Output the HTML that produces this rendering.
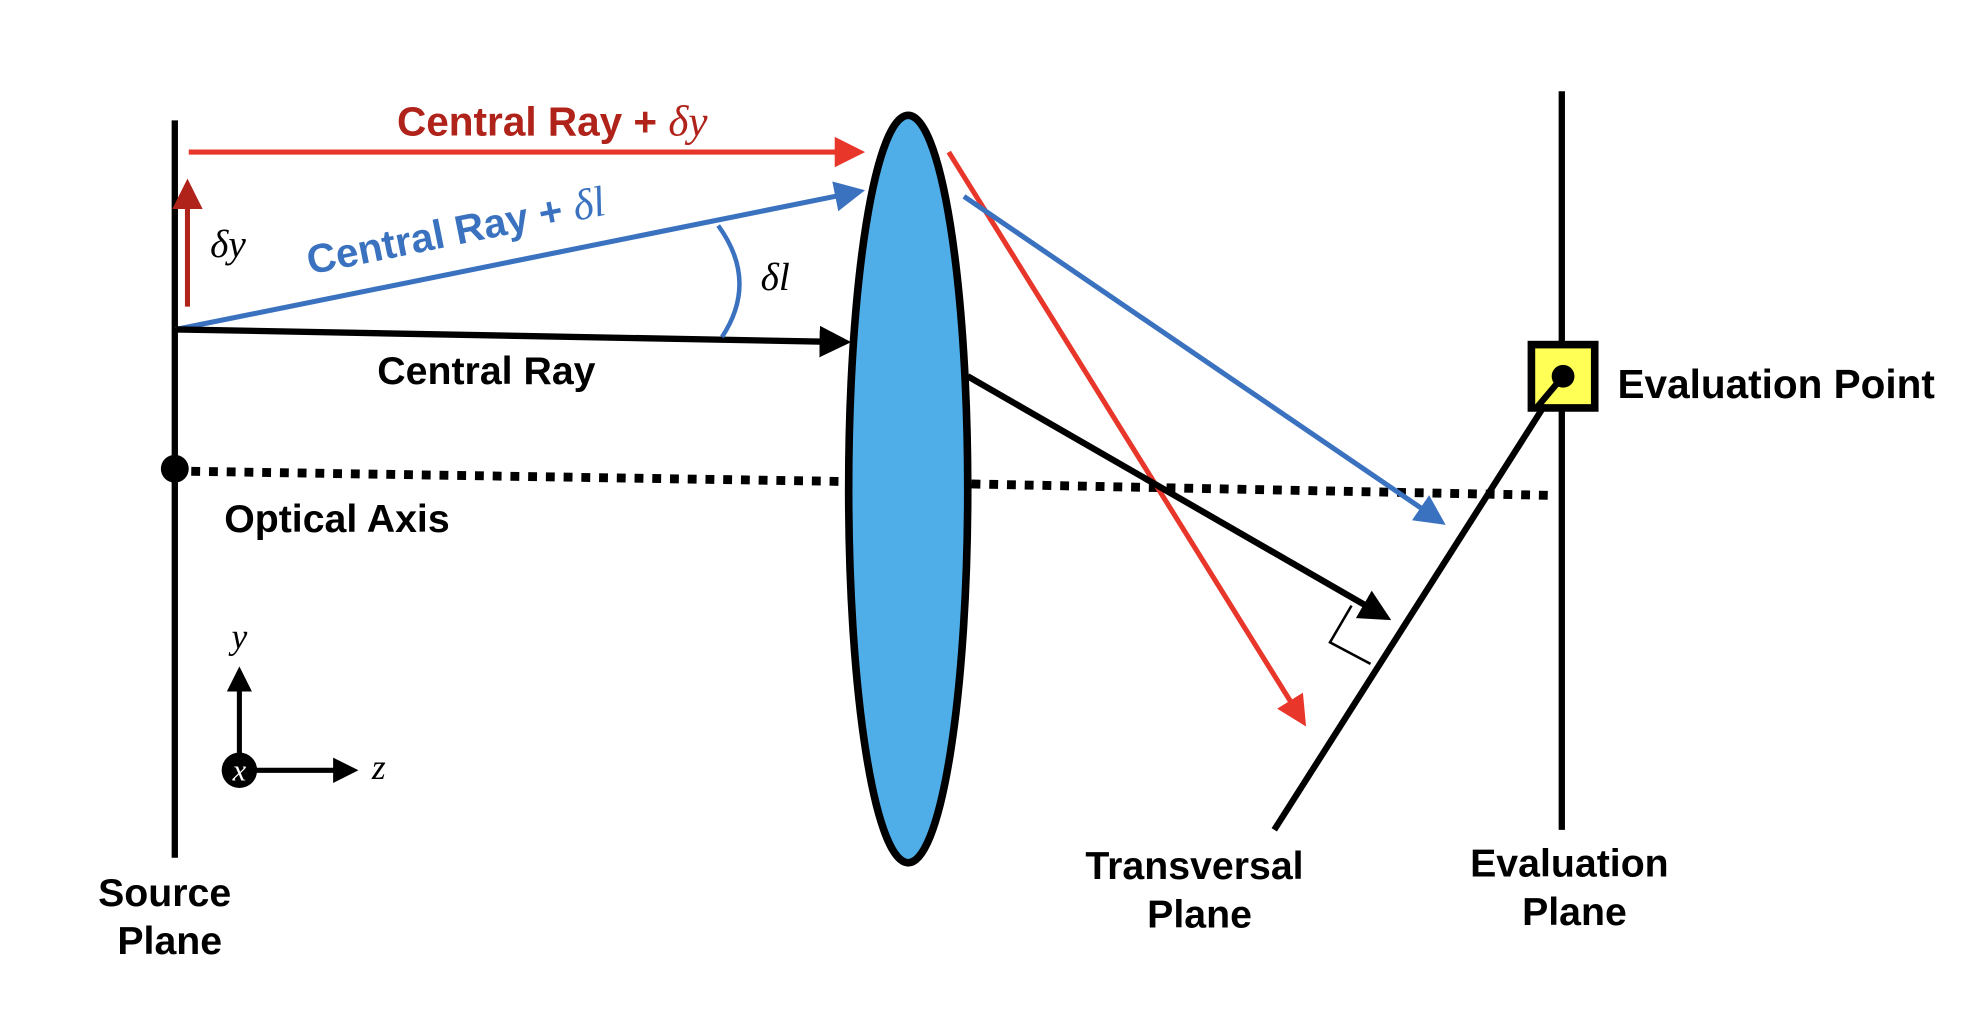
<!DOCTYPE html>
<html><head><meta charset="utf-8"><style>
html,body{margin:0;padding:0;background:#fff;}
svg{display:block;}
text{font-family:"Liberation Sans",sans-serif;font-weight:bold;}
.it{font-family:"Liberation Serif",serif;font-style:italic;font-weight:normal;}
</style></head><body>
<svg width="1976" height="1030" viewBox="0 0 1560 813" preserveAspectRatio="none">
<defs>
<marker id="hr" markerWidth="6" markerHeight="6" refX="5" refY="3" orient="auto" markerUnits="strokeWidth"><path d="M0,0 L6,3 L0,6 z" fill="#e8372a"/></marker>
<marker id="hd" markerWidth="6" markerHeight="6" refX="5" refY="3" orient="auto" markerUnits="strokeWidth"><path d="M0,0 L6,3 L0,6 z" fill="#b0231a"/></marker>
<marker id="hb" markerWidth="6" markerHeight="6" refX="5" refY="3" orient="auto" markerUnits="strokeWidth"><path d="M0,0 L6,3 L0,6 z" fill="#3a72c0"/></marker>
<marker id="hk" markerWidth="5" markerHeight="5" refX="4" refY="2.5" orient="auto" markerUnits="strokeWidth"><path d="M0,0 L5,2.5 L0,5 z" fill="#000"/></marker>
</defs>
<rect width="1560" height="813" fill="#fff"/>
<line x1="138" y1="95" x2="138" y2="677" stroke="#000" stroke-width="5"/>
<line x1="151" y1="372" x2="664" y2="380" stroke="#000" stroke-width="7" stroke-dasharray="7,7"/>
<line x1="767" y1="382" x2="1224" y2="391" stroke="#000" stroke-width="7" stroke-dasharray="7,7"/>
<circle cx="138" cy="370" r="11" fill="#000"/>
<line x1="149" y1="120" x2="679" y2="120" stroke="#e8372a" stroke-width="4" marker-end="url(#hr)"/>
<line x1="148" y1="242" x2="148" y2="145" stroke="#b0231a" stroke-width="4" marker-end="url(#hd)"/>
<line x1="139" y1="260" x2="679" y2="151" stroke="#3a72c0" stroke-width="4" marker-end="url(#hb)"/>
<line x1="139" y1="260" x2="667" y2="270" stroke="#000" stroke-width="5" marker-end="url(#hk)"/>
<path d="M567,178 Q599,222 570,266" fill="none" stroke="#3a72c0" stroke-width="3.5"/>
<ellipse cx="717" cy="386" rx="47" ry="295" fill="#4fade8" stroke="#000" stroke-width="6"/>
<line x1="749" y1="120" x2="1029" y2="570" stroke="#e8372a" stroke-width="4" marker-end="url(#hr)"/>
<line x1="761" y1="155" x2="1138" y2="412" stroke="#3a72c0" stroke-width="4" marker-end="url(#hb)"/>
<line x1="764" y1="297" x2="1094" y2="487" stroke="#000" stroke-width="5" marker-end="url(#hk)"/>
<line x1="1006" y1="655" x2="1234" y2="297" stroke="#000" stroke-width="5"/>
<polyline points="1067,478 1050,507 1082,524" fill="none" stroke="#000" stroke-width="2"/>
<line x1="1233" y1="72" x2="1233" y2="655" stroke="#000" stroke-width="5"/>
<rect x="1209" y="272" width="50" height="50" fill="#ffff55" stroke="#000" stroke-width="6"/>
<line x1="1234" y1="297" x2="1213" y2="322" stroke="#000" stroke-width="5"/>
<circle cx="1234" cy="297" r="9" fill="#000"/>
<line x1="189" y1="608" x2="189" y2="530" stroke="#000" stroke-width="4" marker-end="url(#hk)"/>
<line x1="189" y1="608" x2="279" y2="608" stroke="#000" stroke-width="4" marker-end="url(#hk)"/>
<circle cx="189" cy="608" r="14" fill="#000"/>
<text class="it" x="189" y="616" text-anchor="middle" font-size="24" fill="#fff" font-weight="bold">x</text>
<text class="it" x="189" y="512" text-anchor="middle" font-size="28">y</text>
<text class="it" x="299" y="615" text-anchor="middle" font-size="28">z</text>
<text x="436" y="107" text-anchor="middle" font-size="32" fill="#b0231a">Central Ray + <tspan class="it" font-size="34">δy</tspan></text>
<text x="362" y="193" text-anchor="middle" font-size="32" fill="#3a72c0" transform="rotate(-11.4 362 193)">Central Ray + <tspan class="it" font-size="34">δl</tspan></text>
<text class="it" x="180" y="203" text-anchor="middle" font-size="31">δy</text>
<text class="it" x="612" y="229" text-anchor="middle" font-size="31">δl</text>
<text x="384" y="303" text-anchor="middle" font-size="31">Central Ray</text>
<text x="177" y="420" font-size="31">Optical Axis</text>
<text x="1277" y="314" font-size="32">Evaluation Point</text>
<text x="130" y="715" text-anchor="middle" font-size="31">Source</text>
<text x="134" y="753" text-anchor="middle" font-size="31">Plane</text>
<text x="943" y="694" text-anchor="middle" font-size="31">Transversal</text>
<text x="947" y="732" text-anchor="middle" font-size="31">Plane</text>
<text x="1239" y="692" text-anchor="middle" font-size="31">Evaluation</text>
<text x="1243" y="730" text-anchor="middle" font-size="31">Plane</text>
</svg>
</body></html>
